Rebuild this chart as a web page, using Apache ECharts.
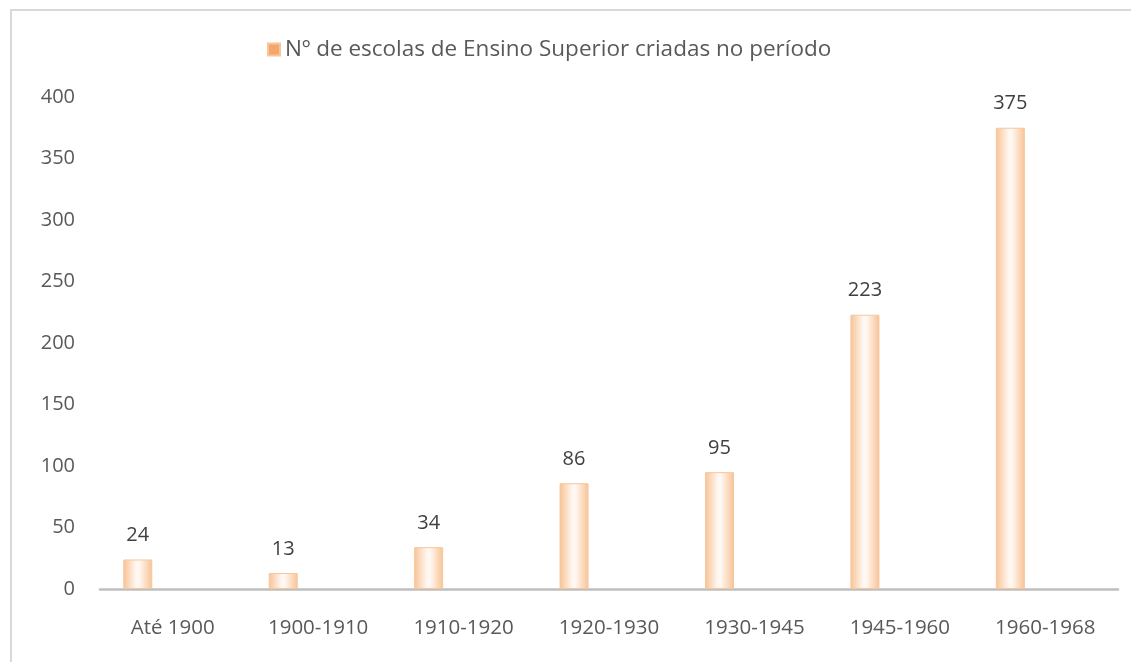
<!DOCTYPE html>
<html>
<head>
<meta charset="utf-8">
<script src="https://cdn.jsdelivr.net/npm/echarts@6/dist/echarts.min.js"></script>
<style>
  html, body { margin: 0; padding: 0; background: #fff; }
  #frame {
    position: absolute;
    left: 10px; top: 9px;
    width: 1140px; height: 680px;
    border: 2px solid #d9d9d9;
    box-sizing: border-box;
  }
  #chart { position: absolute; left: 0; top: 0; width: 1131px; height: 662px; }
</style>
</head>
<body>
<div id="frame"></div>
<div id="chart"></div>
<script>
  /* dados */
  var periodos = ['Até 1900', '1900-1910', '1910-1920', '1920-1930', '1930-1945', '1945-1960', '1960-1968'];
  var escolas = [24, 13, 34, 86, 95, 223, 375];
  var yTicks = [0, 50, 100, 150, 200, 250, 300, 350, 400];
  var serieNome = 'Nº de escolas de Ensino Superior criadas no período';

  var fonte = '"Open Sans", "Liberation Sans", sans-serif';

  var barColor = new echarts.graphic.LinearGradient(0, 0, 1, 0, [
    {offset: 0, color: '#f8c294'},
    {offset: 0.45, color: '#fff8f2'},
    {offset: 0.55, color: '#fff8f2'},
    {offset: 1, color: '#f8c294'}
  ]);

  var chart = echarts.init(document.getElementById('chart'));

  chart.setOption({
    animation: false,
    legend: {
      data: [{name: serieNome, itemStyle: {color: '#f5a66a'}}],
      left: 262,
      top: 33,
      icon: 'rect',
      itemWidth: 12,
      itemHeight: 12,
      itemGap: 6,
      textStyle: {color: '#595959', fontSize: 22.5, fontFamily: fonte}
    },
    grid: {left: 100, right: 13, top: 97, bottom: 73},
    xAxis: {
      type: 'category',
      data: periodos,
      axisLine: {lineStyle: {color: '#bfbfbf', width: 2.5}},
      axisTick: {show: false},
      axisLabel: {color: '#595959', fontSize: 20.5, fontFamily: fonte, margin: 29}
    },
    yAxis: {
      type: 'value',
      min: yTicks[0],
      max: yTicks[yTicks.length - 1],
      interval: 50,
      axisLine: {show: false},
      axisTick: {show: false},
      splitLine: {show: false},
      axisLabel: {color: '#595959', fontSize: 20, fontFamily: fonte, margin: 25}
    },
    series: [
      {
        name: serieNome,
        type: 'bar',
        data: escolas,
        barWidth: 29,
        barGap: '141%',
        itemStyle: {color: barColor, borderColor: '#f6c79c', borderWidth: 1},
        label: {
          show: true,
          position: 'top',
          distance: 14,
          color: '#404040',
          fontSize: 20,
          fontFamily: fonte
        }
      },
      {
        name: 'vazio',
        type: 'bar',
        data: escolas.map(function () { return 0; }),
        barWidth: 29,
        itemStyle: {color: 'rgba(0,0,0,0)'}
      }
    ]
  });
</script>
</body>
</html>
